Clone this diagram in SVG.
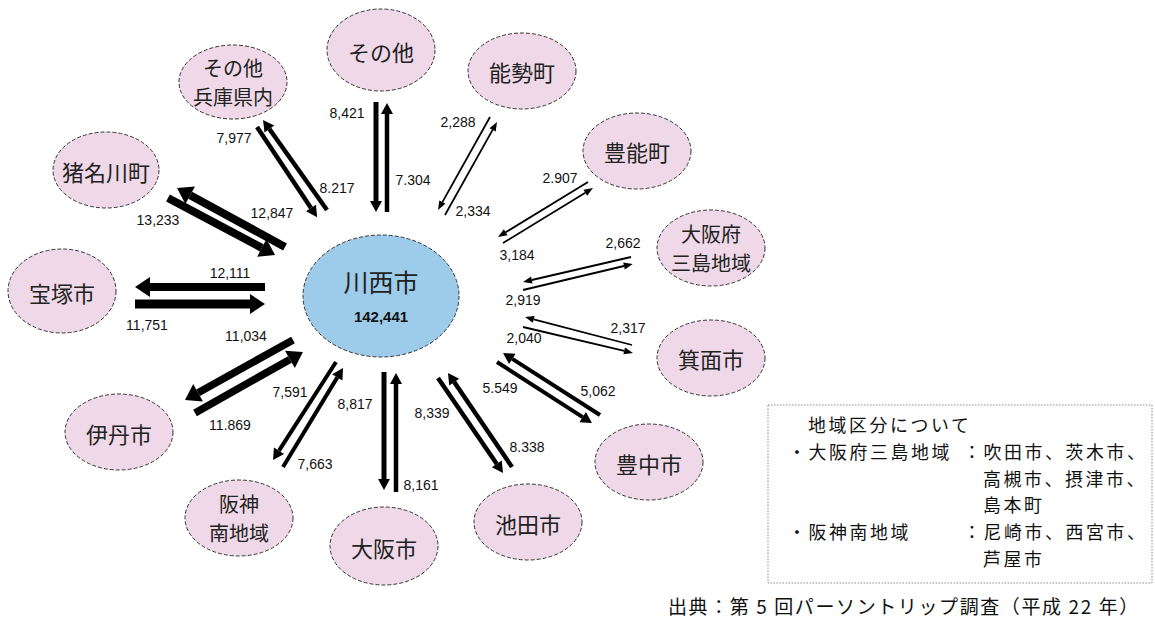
<svg xmlns="http://www.w3.org/2000/svg" width="1155" height="626" viewBox="0 0 1155 626">
<style>
.node ellipse{fill:#efd8e7;stroke:#333;stroke-width:1;stroke-dasharray:4 2}
#kawanishi ellipse{fill:#9dcbea}
.lbl{font-family:"Noto Sans CJK JP",sans-serif;font-size:22px;fill:#222;text-anchor:middle;dominant-baseline:central}
.two{font-size:20px}
.num{font-family:"Liberation Sans",Arial,sans-serif;font-size:14px;fill:#111;text-anchor:middle;dominant-baseline:central}
.leg{font-family:"Noto Sans CJK JP",sans-serif;font-size:17.9px;letter-spacing:2.6px;fill:#111}
.src{font-family:"Noto Sans CJK JP",sans-serif;font-size:19px;letter-spacing:1.6px;fill:#111}
#connectors line{stroke:#000;fill:none}
.big{stroke-width:8;marker-end:url(#hb)}
.mid{stroke-width:4.5;marker-end:url(#hm)}
.sml{stroke-width:1.8;marker-end:url(#hs)}
</style>
<defs>
<marker id="hb" markerUnits="userSpaceOnUse" markerWidth="15" markerHeight="20" refX="0" refY="10" orient="auto" overflow="visible"><path d="M0,0 L15,10 L0,20 z" fill="#000"/></marker>
<marker id="hm" markerUnits="userSpaceOnUse" markerWidth="11" markerHeight="12" refX="0" refY="6" orient="auto" overflow="visible"><path d="M0,0 L11,6 L0,12 z" fill="#000"/></marker>
<marker id="hs" markerUnits="userSpaceOnUse" markerWidth="9" markerHeight="7" refX="0" refY="3.5" orient="auto" overflow="visible"><path d="M0,0 L9,3.5 L0,7 z" fill="#000"/></marker>
</defs>
<rect width="1155" height="626" fill="#fff"/>

<g id="connectors">
<!-- 宝塚市 -->
<line class="big" x1="265" y1="287" x2="150" y2="287"/>
<line class="big" x1="135" y1="304" x2="250" y2="304" style="stroke-width:9"/>
<!-- 猪名川町 -->
<line class="big" x1="285" y1="247" x2="190.2" y2="195.2"/>
<line class="big" x1="168" y1="198" x2="261.8" y2="247.9"/>
<!-- 伊丹市 -->
<line class="big" x1="293" y1="340" x2="198.1" y2="392.7" style="stroke-width:7.5"/>
<line class="big" x1="195" y1="413" x2="289.9" y2="359.4" style="stroke-width:7.5"/>
<!-- その他兵庫県内 -->
<line class="mid" x1="327" y1="210" x2="269.4" y2="129"/>
<line class="mid" x1="257" y1="127" x2="311" y2="208"/>
<!-- その他 -->
<line class="mid" x1="376" y1="102" x2="376" y2="201" style="stroke-width:5"/>
<line class="mid" x1="387" y1="212" x2="387" y2="114"/>
<!-- 能勢町 -->
<line class="sml" x1="490" y1="117" x2="442.4" y2="202.1"/>
<line class="sml" x1="445" y1="215" x2="492.6" y2="129.9"/>
<!-- 豊能町 -->
<line class="sml" x1="588" y1="182" x2="505.7" y2="232.3"/>
<line class="sml" x1="503" y1="243" x2="585.3" y2="192.7"/>
<!-- 大阪府三島地域 -->
<line class="sml" x1="631" y1="257" x2="531.8" y2="280"/>
<line class="sml" x1="523" y1="290" x2="624" y2="266"/>
<!-- 箕面市 -->
<line class="sml" x1="632" y1="345" x2="533.7" y2="319.3"/>
<line class="sml" x1="523" y1="327" x2="624.2" y2="350.9"/>
<!-- 豊中市 -->
<line class="mid" x1="497" y1="362" x2="582.7" y2="417.1" style="stroke-width:4"/>
<line class="mid" x1="600" y1="415" x2="512.3" y2="358.9" style="stroke-width:4"/>
<!-- 池田市 -->
<line class="mid" x1="438" y1="378" x2="496.8" y2="463.9"/>
<line class="mid" x1="512" y1="467" x2="454.2" y2="382.1"/>
<!-- 大阪市 -->
<line class="mid" x1="384" y1="372" x2="384" y2="479" style="stroke-width:5"/>
<line class="mid" x1="396" y1="492" x2="396" y2="384"/>
<!-- 阪神南地域 -->
<line class="mid" x1="336" y1="362" x2="279" y2="450.7" style="stroke-width:4"/>
<line class="mid" x1="283" y1="467" x2="337.3" y2="377.4" style="stroke-width:4"/>
</g>

<g id="labels">
<text class="num" x="230" y="273">12,111</text>
<text class="num" x="147" y="325">11,751</text>
<text class="num" x="158" y="220">13,233</text>
<text class="num" x="272" y="213">12,847</text>
<text class="num" x="246" y="336">11,034</text>
<text class="num" x="230" y="425">11.869</text>
<text class="num" x="234" y="138">7,977</text>
<text class="num" x="337" y="188">8.217</text>
<text class="num" x="347" y="113">8,421</text>
<text class="num" x="413" y="180">7.304</text>
<text class="num" x="458" y="122">2,288</text>
<text class="num" x="473" y="211">2,334</text>
<text class="num" x="560" y="178">2.907</text>
<text class="num" x="517" y="255">3,184</text>
<text class="num" x="623" y="243">2,662</text>
<text class="num" x="523" y="300">2,919</text>
<text class="num" x="628" y="328">2,317</text>
<text class="num" x="524" y="338">2,040</text>
<text class="num" x="500" y="388">5.549</text>
<text class="num" x="598" y="391">5,062</text>
<text class="num" x="432" y="413">8,339</text>
<text class="num" x="527" y="447">8.338</text>
<text class="num" x="421" y="485">8,161</text>
<text class="num" x="355" y="404">8,817</text>
<text class="num" x="290" y="392">7,591</text>
<text class="num" x="315" y="464">7,663</text>
</g>

<g id="kawanishi" class="node"><ellipse cx="381" cy="296" rx="78" ry="61"/><text class="lbl" x="381" y="281" style="font-size:25px">川西市</text><text class="num" x="381" y="316" style="font-weight:bold;font-size:15px">142,441</text></g>
<g id="sonota-hyogo" class="node"><ellipse cx="233" cy="82" rx="54" ry="37"/><text class="lbl two" x="233" y="67.5">その他</text><text class="lbl two" x="233" y="96.5">兵庫県内</text></g>
<g id="sonota" class="node"><ellipse cx="381" cy="50" rx="54" ry="41"/><text class="lbl" x="381" y="51">その他</text></g>
<g id="nose" class="node"><ellipse cx="522" cy="71" rx="54" ry="38"/><text class="lbl" x="522" y="71">能勢町</text></g>
<g id="toyono" class="node"><ellipse cx="637" cy="151" rx="54" ry="38"/><text class="lbl" x="637" y="151">豊能町</text></g>
<g id="mishima" class="node"><ellipse cx="711" cy="248" rx="54" ry="38"/><text class="lbl two" x="711" y="233.5">大阪府</text><text class="lbl two" x="711" y="262.5">三島地域</text></g>
<g id="mino" class="node"><ellipse cx="711" cy="358" rx="54" ry="38"/><text class="lbl" x="711" y="358">箕面市</text></g>
<g id="toyonaka" class="node"><ellipse cx="649" cy="462" rx="54" ry="38"/><text class="lbl" x="649" y="463">豊中市</text></g>
<g id="ikeda" class="node"><ellipse cx="528" cy="522" rx="54" ry="38"/><text class="lbl" x="528" y="523">池田市</text></g>
<g id="osaka" class="node"><ellipse cx="384" cy="546" rx="54" ry="39"/><text class="lbl" x="384" y="547">大阪市</text></g>
<g id="hanshin" class="node"><ellipse cx="239" cy="518" rx="54" ry="38"/><text class="lbl two" x="239" y="503.5">阪神</text><text class="lbl two" x="239" y="532.5">南地域</text></g>
<g id="itami" class="node"><ellipse cx="119" cy="432" rx="54" ry="38"/><text class="lbl" x="119" y="433">伊丹市</text></g>
<g id="takarazuka" class="node"><ellipse cx="62" cy="291" rx="54" ry="42"/><text class="lbl" x="62" y="292">宝塚市</text></g>
<g id="inagawa" class="node"><ellipse cx="106" cy="170" rx="53" ry="38"/><text class="lbl" x="106" y="171">猪名川町</text></g>

<g id="legend">
<rect x="768" y="405" width="384" height="178" fill="none" stroke="#888" stroke-width="1" stroke-dasharray="1.5 1.5"/>
<text class="leg" x="808" y="432">地域区分について</text>
<text class="leg" x="788" y="459">・大阪府三島地域</text>
<text class="leg" x="963" y="459">：吹田市、茨木市、</text>
<text class="leg" x="983" y="486">高槻市、摂津市、</text>
<text class="leg" x="983" y="512">島本町</text>
<text class="leg" x="788" y="539">・阪神南地域</text>
<text class="leg" x="963" y="539">：尼崎市、西宮市、</text>
<text class="leg" x="983" y="566">芦屋市</text>
</g>
<text class="src" x="668" y="614">出典：第 5 回パーソントリップ調査（平成 22 年）</text>
</svg>
